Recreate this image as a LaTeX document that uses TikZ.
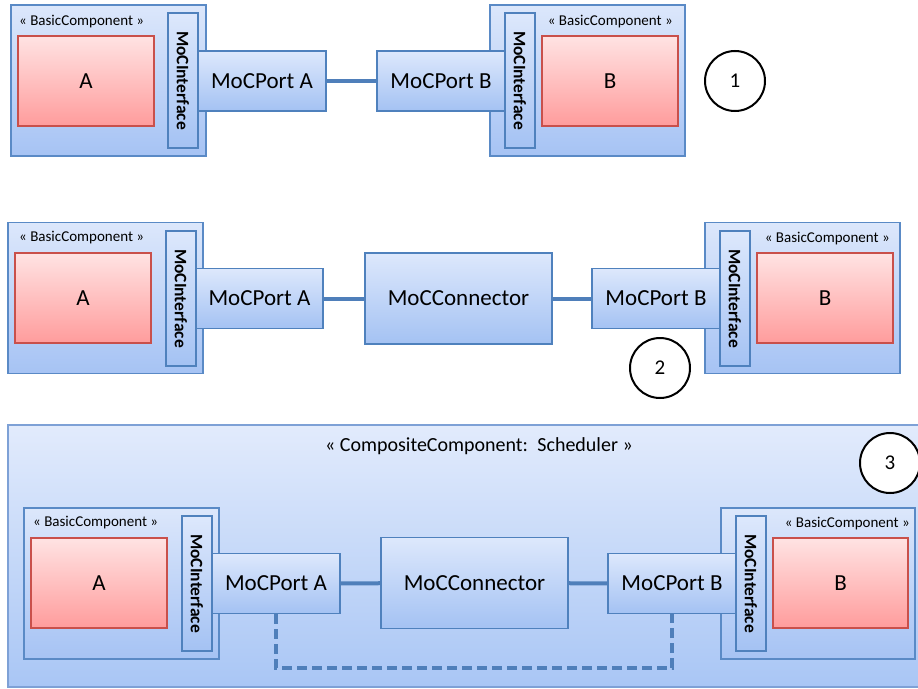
\documentclass[tikz,border=0pt]{standalone}
\usepackage{fontspec}
\setmainfont{Carlito}
\definecolor{compTop}{HTML}{DCE7FB}
\definecolor{compBot}{HTML}{A6C3F4}
\definecolor{compLine}{HTML}{5A8AC6}
\definecolor{redTop}{HTML}{FFE3E3}
\definecolor{redBot}{HTML}{FF9C9C}
\definecolor{redLine}{HTML}{C9504B}
\definecolor{portTop}{HTML}{DDE8FC}
\definecolor{portBot}{HTML}{A4C2F3}
\definecolor{portLine}{HTML}{4F81BD}
\definecolor{linkCol}{HTML}{4F7FBA}
\definecolor{outerTop}{HTML}{E2EBFC}
\definecolor{outerBot}{HTML}{A9C6F5}
\definecolor{outerLine}{HTML}{7EA1D6}
\begin{document}
\begin{tikzpicture}[x=1pt,y=-1pt,
  comp/.style={rectangle,draw=compLine,line width=1.3pt,top color=compTop,bottom color=compBot,inner sep=0pt,minimum width=195pt,minimum height=151pt},
  redbox/.style={rectangle,draw=redLine,line width=1.3pt,top color=redTop,bottom color=redBot,inner sep=0pt,minimum width=136pt,minimum height=90pt,font=\fontsize{23}{27}\selectfont},
  iface/.style={rectangle,draw=portLine,line width=1.3pt,top color=portTop,bottom color=portBot,inner sep=0pt,minimum width=135pt,minimum height=30pt,rotate=-90,font=\bfseries\fontsize{17.5}{20}\selectfont},
  port/.style={rectangle,draw=portLine,line width=1.3pt,top color=portTop,bottom color=portBot,inner sep=0pt,minimum width=128pt,minimum height=60pt,font=\fontsize{23}{27}\selectfont},
  connbox/.style={rectangle,draw=portLine,line width=1.3pt,top color=portTop,bottom color=portBot,inner sep=0pt,minimum width=187pt,minimum height=91pt,font=\fontsize{23}{27}\selectfont},
  stereo/.style={inner sep=0pt,font=\fontsize{15}{18}\selectfont},
  numcirc/.style={circle,draw=black,line width=2pt,fill=white,minimum size=60pt,inner sep=0pt,font=\fontsize{21}{24}\selectfont},
  link/.style={draw=linkCol,line width=4pt},
  dlink/.style={draw=linkCol,line width=4pt,dash pattern=on 10pt off 5pt}
]
\useasboundingbox (0,0) rectangle (918,688);

% ---------- Row 1 ----------
\node[comp] (cA1) at (108.5,80.5) {};
\node[stereo,anchor=west] (sA1) at (19,22) {« BasicComponent »};
\node[redbox] (rA1) at (86,81) {A};
\node[iface] (iA1) at (183,80.5) {MoCInterface};
\node[port] (pA1) at (262,81) {MoCPort A};

\node[comp] (cB1) at (587.5,80.5) {};
\node[stereo,anchor=east] (sB1) at (673,22) {« BasicComponent »};
\node[redbox] (rB1) at (610,81) {B};
\node[iface] (iB1) at (520,80.5) {MoCInterface};
\node[port] (pB1) at (441,81) {MoCPort B};

\draw[link] (pA1) -- (pB1);
\node[numcirc] (n1) at (735,81) {1};

% ---------- Row 2 ----------
\node[comp] (cA2) at (105.5,298) {};
\node[stereo,anchor=west] (sA2) at (19,238) {« BasicComponent »};
\node[redbox] (rA2) at (83,298) {A};
\node[iface] (iA2) at (181,298.5) {MoCInterface};
\node[port,minimum width=127pt] (pA2) at (259.5,298.5) {MoCPort A};

\node[connbox] (k2) at (458.5,298.5) {MoCConnector};

\node[comp] (cB2) at (802.5,298) {};
\node[stereo,anchor=east] (sB2) at (890,239) {« BasicComponent »};
\node[redbox] (rB2) at (825,298) {B};
\node[iface] (iB2) at (735,298.5) {MoCInterface};
\node[port] (pB2) at (656,298.5) {MoCPort B};

\draw[link] (pA2) -- (k2);
\draw[link] (k2) -- (pB2);
\node[numcirc] (n2) at (660,368) {2};

% ---------- Row 3 ----------
\node[rectangle,draw=outerLine,line width=1.3pt,top color=outerTop,bottom color=outerBot,minimum width=922pt,minimum height=262pt,inner sep=0pt] (sched) at (469,556) {};
\node[inner sep=0pt,font=\fontsize{20}{24}\selectfont] (schedLbl) at (479,446) {« CompositeComponent:\, Scheduler »};
\node[numcirc] (n3) at (890,463) {3};

\node[comp] (cA3) at (121.5,583.5) {};
\node[stereo,anchor=west] (sA3) at (33,523) {« BasicComponent »};
\node[redbox] (rA3) at (99,583) {A};
\node[iface] (iA3) at (197,583.5) {MoCInterface};
\node[port] (pA3) at (276,583.5) {MoCPort A};

\node[connbox] (k3) at (474.5,583) {MoCConnector};

\node[comp,minimum width=194pt] (cB3) at (818,583.5) {};
\node[stereo,anchor=east] (sB3) at (910,524) {« BasicComponent »};
\node[redbox,minimum width=135pt] (rB3) at (840.5,583) {B};
\node[iface] (iB3) at (751,583.5) {MoCInterface};
\node[port] (pB3) at (672,583.5) {MoCPort B};

\draw[link] (pA3) -- (k3);
\draw[link] (k3) -- (pB3);
\draw[dlink] (pA3.south) -- ++(0,54) -| (pB3.south);
\end{tikzpicture}
\end{document}
